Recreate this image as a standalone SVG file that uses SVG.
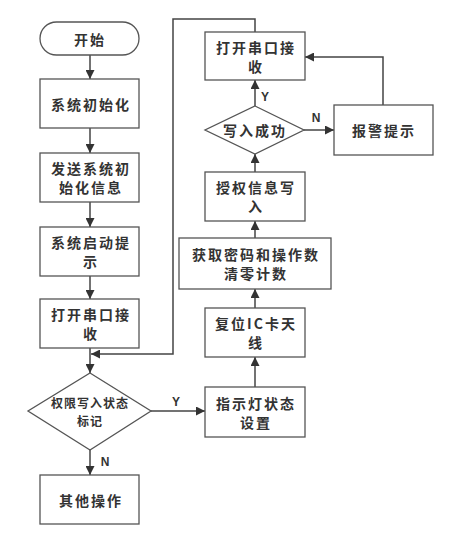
<svg xmlns="http://www.w3.org/2000/svg" width="454" height="535" viewBox="0 0 454 535">
<defs>
<style>
.n{fill:#fff;stroke:#555;stroke-width:1.3}
.t{font-family:"Noto Sans CJK SC","Liberation Sans",sans-serif;font-size:14px;font-weight:bold;fill:#333;text-anchor:middle;dominant-baseline:central;letter-spacing:2px}
.s{font-size:12px;letter-spacing:1px}
.l{font-family:"Liberation Sans",sans-serif;font-size:12px;font-weight:bold;fill:#333;text-anchor:middle;dominant-baseline:central}
.c{fill:none;stroke:#444;stroke-width:1.5}
</style>
<marker id="a" markerUnits="userSpaceOnUse" markerWidth="9" markerHeight="9" refX="9" refY="4.5" orient="auto"><path d="M0,0 L9,4.5 L0,9 z" fill="#333"/></marker>
</defs>
<rect width="454" height="535" fill="#fff"/>
<g id="connectors" class="c" marker-end="url(#a)">
<path d="M90,55 V79"/>
<path d="M90,128 V153"/>
<path d="M90,202 V227"/>
<path d="M90,276 V299"/>
<path d="M90,348 V373"/>
<path d="M255,32 V19 H173 V354 H91"/>
<path d="M151,411 H205"/>
<path d="M90,450 V475"/>
<path d="M255,387 V357"/>
<path d="M255,308 V289"/>
<path d="M255,238 V221"/>
<path d="M255,172 V154"/>
<path d="M255,106 V80"/>
<path d="M304,130 H334"/>
<path d="M383,105 V57 H305"/>
</g>
<g id="labels">
<text class="l" x="176" y="402">Y</text>
<text class="l" x="105" y="462">N</text>
<text class="l" x="265" y="97">Y</text>
<text class="l" x="316" y="118">N</text>
</g>
<g id="start"><rect class="n" x="40" y="22" width="99" height="33" rx="16.5"/><text class="t" x="90" y="39">开始</text></g>
<g id="init"><rect class="n" x="40" y="79" width="99" height="49"/><text class="t" x="91" y="104">系统初始化</text></g>
<g id="sendinit"><rect class="n" x="40" y="153" width="99" height="49"/><text class="t" x="91" y="168">发送系统初</text><text class="t" x="91" y="187">始化信息</text></g>
<g id="startup"><rect class="n" x="40" y="227" width="99" height="49"/><text class="t" x="91" y="242">系统启动提</text><text class="t" x="91" y="261">示</text></g>
<g id="openport1"><rect class="n" x="40" y="299" width="99" height="49"/><text class="t" x="91" y="314">打开串口接</text><text class="t" x="91" y="333">收</text></g>
<g id="flag"><polygon class="n" points="90,373 151,411 90,450 28,411"/><text class="t s" x="90" y="402">权限写入状态</text><text class="t s" x="90" y="420">标记</text></g>
<g id="other"><rect class="n" x="40" y="475" width="99" height="49"/><text class="t" x="91" y="500">其他操作</text></g>
<g id="led"><rect class="n" x="205" y="387" width="100" height="50"/><text class="t" x="256" y="403">指示灯状态</text><text class="t" x="256" y="422">设置</text></g>
<g id="reset"><rect class="n" x="205" y="308" width="100" height="49"/><text class="t" x="256" y="323">复位IC卡天</text><text class="t" x="256" y="342">线</text></g>
<g id="getpwd"><rect class="n" x="179" y="238" width="152" height="51"/><text class="t" x="256" y="254">获取密码和操作数</text><text class="t" x="256" y="273">清零计数</text></g>
<g id="auth"><rect class="n" x="205" y="172" width="100" height="49"/><text class="t" x="256" y="187">授权信息写</text><text class="t" x="256" y="206">入</text></g>
<g id="success"><polygon class="n" points="255,106 304,130 255,154 205,130"/><text class="t" x="255" y="130">写入成功</text></g>
<g id="openport2"><rect class="n" x="205" y="32" width="100" height="48"/><text class="t" x="256" y="47">打开串口接</text><text class="t" x="256" y="66">收</text></g>
<g id="alarm"><rect class="n" x="334" y="105" width="99" height="50"/><text class="t" x="384" y="130">报警提示</text></g>
</svg>
